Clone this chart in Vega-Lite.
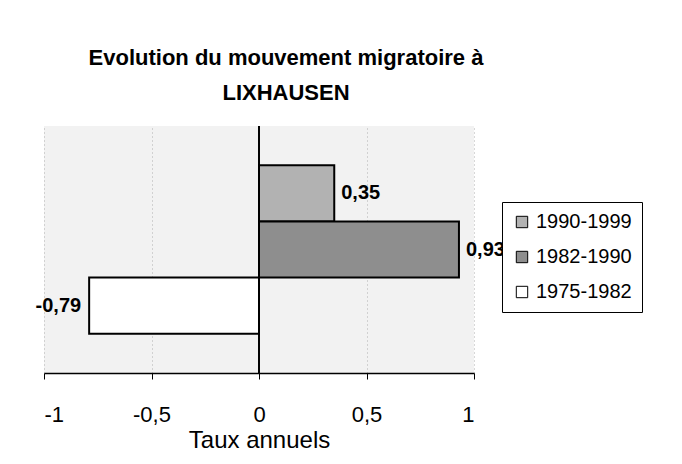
{
  "$schema": "https://vega.github.io/schema/vega-lite/v6.json",
  "width": 430,
  "height": 247,
  "autosize": "none",
  "padding": {"left": 44, "top": 126, "right": 208, "bottom": 91},
  "background": "white",
  "config": {
    "font": "Liberation Sans",
    "locale": {"number": {"decimal": ",", "thousands": " ", "grouping": [3], "currency": ["", " €"], "minus": "-"}},
    "view": {"fill": "#f2f2f2", "stroke": null}
  },
  "title": {
    "text": ["Evolution du mouvement migratoire à", "LIXHAUSEN"],
    "fontSize": 22,
    "fontWeight": "bold",
    "lineHeight": 35,
    "color": "black",
    "anchor": "middle",
    "dx": 27,
    "offset": 20
  },
  "data": {
    "values": [
      {"periode": "1990-1999", "taux": 0.35},
      {"periode": "1982-1990", "taux": 0.93},
      {"periode": "1975-1982", "taux": -0.79}
    ]
  },
  "encoding": {
    "y": {
      "field": "periode",
      "type": "nominal",
      "scale": {"domain": ["1990-1999", "1982-1990", "1975-1982"], "paddingInner": 0, "paddingOuter": 0.7},
      "axis": null
    },
    "x": {
      "field": "taux",
      "type": "quantitative",
      "scale": {"domain": [-1, 1], "nice": false},
      "axis": {
        "title": "Taux annuels",
        "values": [-1, -0.5, 0, 0.5, 1],
        "format": "~g",
        "labelFontSize": 22,
        "labelColor": "black",
        "labelPadding": 25,
        "tickSize": 6,
        "tickColor": "black",
        "domainColor": "black",
        "domainWidth": 1.5,
        "titleFontSize": 24,
        "titleFontWeight": "normal",
        "titleColor": "black",
        "titlePadding": 3,
        "grid": true,
        "gridColor": "#b0b0b0",
        "gridDash": [1, 3],
        "gridWidth": 1
      }
    }
  },
  "layer": [
    {
      "mark": {"type": "bar", "stroke": "black", "strokeWidth": 2},
      "encoding": {
        "fill": {
          "field": "periode",
          "type": "nominal",
          "scale": {"domain": ["1990-1999", "1982-1990", "1975-1982"], "range": ["#b2b2b2", "#8e8e8e", "#ffffff"]},
          "legend": {
            "title": null,
            "orient": "none",
            "legendX": 458,
            "legendY": 76,
            "direction": "vertical",
            "fillColor": "white",
            "strokeColor": "black",
            "padding": 10,
            "rowPadding": 15,
            "symbolType": "square",
            "symbolSize": 130,
            "symbolStrokeColor": "black",
            "symbolStrokeWidth": 1,
            "symbolOpacity": 1,
            "labelFontSize": 20,
            "labelColor": "black",
            "labelOffset": 4
          }
        }
      }
    },
    {
      "transform": [{"filter": "datum.taux >= 0"}],
      "mark": {"type": "text", "align": "left", "dx": 7, "fontSize": 20, "fontWeight": "bold", "color": "black"},
      "encoding": {"text": {"field": "taux", "type": "quantitative", "format": ".2f"}}
    },
    {
      "transform": [{"filter": "datum.taux < 0"}],
      "mark": {"type": "text", "align": "right", "dx": -8, "fontSize": 20, "fontWeight": "bold", "color": "black"},
      "encoding": {"text": {"field": "taux", "type": "quantitative", "format": ".2f"}}
    },
    {
      "mark": {"type": "rule", "color": "black", "strokeWidth": 1.5},
      "encoding": {"x": {"datum": 0}, "y": null}
    }
  ]
}
